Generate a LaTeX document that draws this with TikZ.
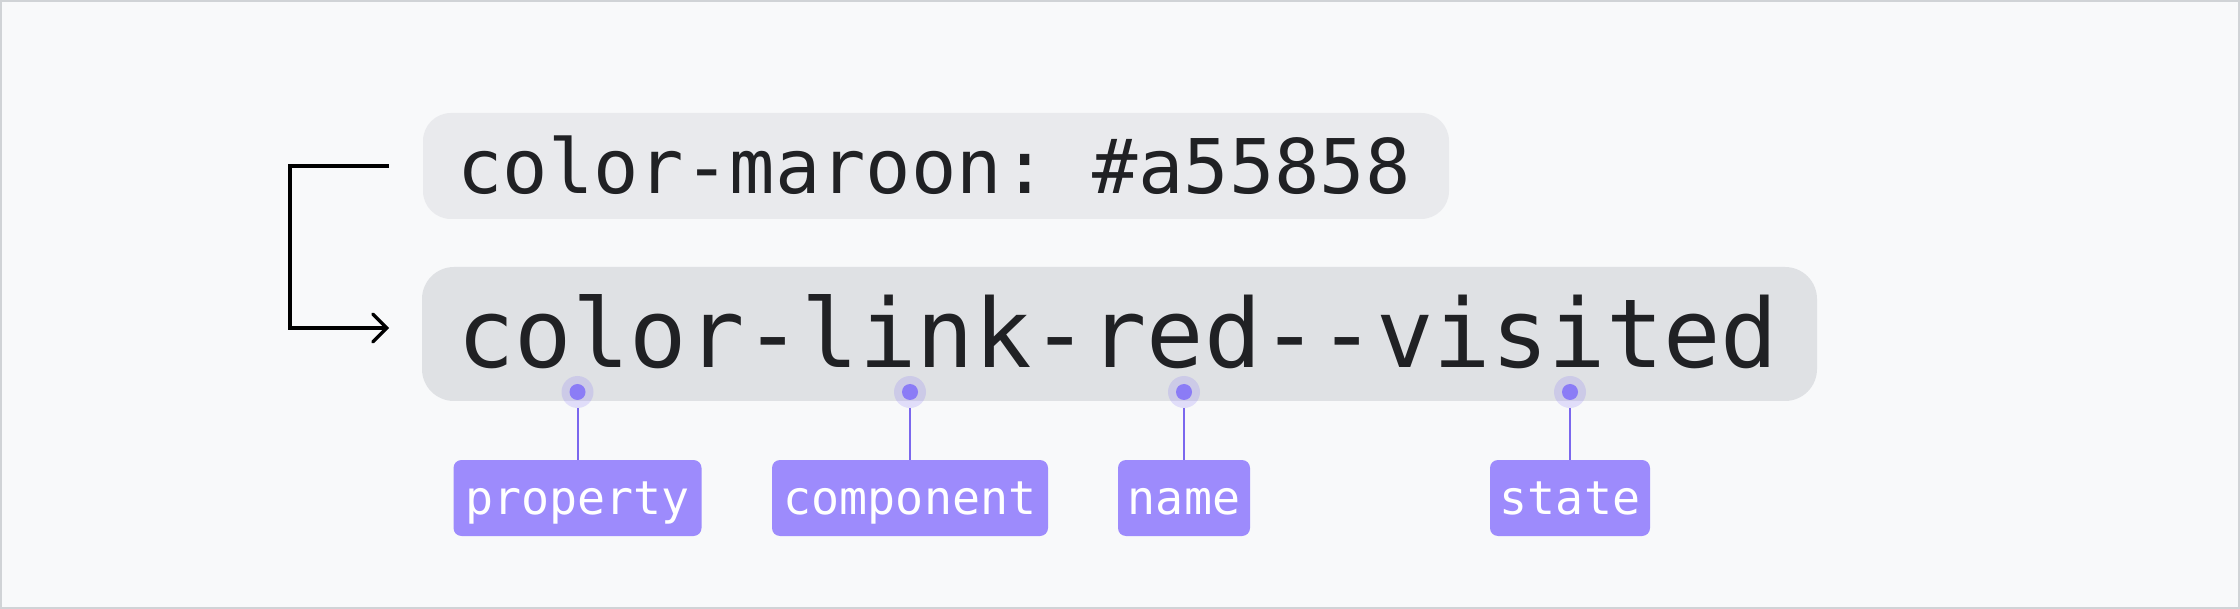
\documentclass[tikz,border=0pt]{standalone}
\usepackage{fontspec}
\setmonofont{DejaVu Sans Mono}
\usetikzlibrary{arrows.meta}
\definecolor{bgc}{HTML}{F8F9FA}
\definecolor{framec}{HTML}{D0D3D6}
\definecolor{boxa}{HTML}{E9EAED}
\definecolor{boxb}{HTML}{DFE1E4}
\definecolor{inkc}{HTML}{202124}
\definecolor{dotc}{HTML}{8B7CF6}
\definecolor{linec}{HTML}{7B68EE}
\definecolor{tagc}{HTML}{9D8BFC}
\tikzset{
  codebox/.style={draw=none, rounded corners=#1, inner sep=0pt},
  codetext/.style={anchor=base west, inner sep=0pt, text=inkc, font=\ttfamily},
  conn/.style={draw=black, line width=1.65pt, -{Straight Barb[length=7pt,width=14pt,line cap=round]}},
  halo/.style={circle, fill=dotc, fill opacity=0.22, minimum size=16pt, inner sep=0pt},
  dotin/.style={circle, fill=dotc, minimum size=8pt, inner sep=0pt},
  tagline/.style={draw=linec, line width=1pt},
  tag/.style={fill=tagc, rounded corners=4pt, text=white, font=\ttfamily\fontsize{23.3pt}{26pt}\selectfont,
    minimum height=38pt, inner xsep=0pt, text height=19pt, text depth=3pt},
}
\begin{document}
\begin{tikzpicture}[x=0.5pt,y=-0.5pt]
\path[use as bounding box] (0,0) rectangle (2240,609);
\fill[bgc, draw=framec, line width=1pt] (1,1) rectangle (2239,608);

% code boxes
\node[codebox=14pt, fill=boxa, minimum width=513pt, minimum height=53pt] (topbox) at (936,166) {};
\node[codebox=16pt, fill=boxb, minimum width=697.5pt, minimum height=67pt] (botbox) at (1119.5,334) {};
\node[codetext, font=\ttfamily\fontsize{37.7pt}{40pt}\selectfont] (toptext) at (457,194) {color-maroon: \#a55858};
\node[codetext, font=\ttfamily\fontsize{47.7pt}{50pt}\selectfont] (bottext) at (457,368) {color-link-red--visited};

% rename connector
\coordinate (a1) at (389,166);
\coordinate (a2) at (389,328);
\draw[conn] (a1) -- ++(-99,0) |- (a2);

% markers
\foreach \n/\x/\w/\t in {1/577.5/124pt/property, 2/910/138pt/component, 3/1184/66pt/name, 4/1570/80pt/state}{
  \node[halo] (h\n) at (\x,392) {};
  \node[dotin] (d\n) at (\x,392) {};
  \node[tag, minimum width=\w] (l\n) at (\x,498) {\t};
  \draw[tagline] (h\n) -- (l\n);
}
\end{tikzpicture}
\end{document}
